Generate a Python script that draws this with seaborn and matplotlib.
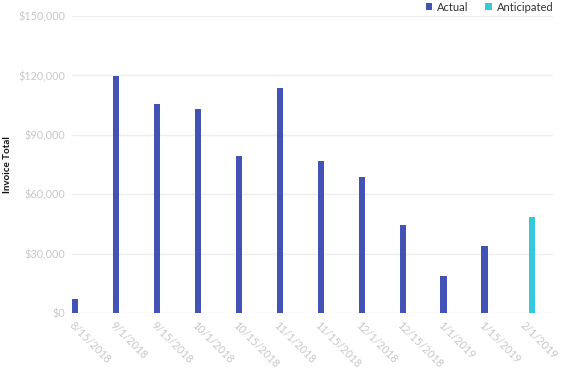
import matplotlib
matplotlib.use("Agg")
import matplotlib.pyplot as plt
import matplotlib.transforms as mtransforms
from matplotlib.ticker import FuncFormatter
from matplotlib.patches import Patch
import seaborn as sns
import pandas as pd

dates = ["8/15/2018", "9/1/2018", "9/15/2018", "10/1/2018", "10/15/2018", "11/1/2018",
         "11/15/2018", "12/1/2018", "12/15/2018", "1/1/2019", "1/15/2019", "2/1/2019"]
actual = [7300, 119700, 105600, 103200, 79500, 113700, 77000, 68900, 44600, 18800, 34000, None]
anticipated = [None, None, None, None, None, None, None, None, None, None, None, 48600]
series = ["Actual", "Anticipated"]
colors = ["#4352b5", "#36c9dc"]
yticks = [0, 30000, 60000, 90000, 120000, 150000]

rows = []
for d, a, p in zip(dates, actual, anticipated):
    if a is not None:
        rows.append({"date": d, "series": "Actual", "value": a})
    if p is not None:
        rows.append({"date": d, "series": "Anticipated", "value": p})
df = pd.DataFrame(rows)

sns.set_style("white")
plt.rcParams["font.family"] = ["Lato", "DejaVu Sans"]

fig = plt.figure(figsize=(5.64, 3.71), dpi=100)
ax = fig.add_axes([72 / 564, (371 - 313.3) / 371, (553 - 72) / 564, (313.3 - 16) / 371])

sns.barplot(data=df, x="date", y="value", hue="series", order=dates, hue_order=series,
            palette=colors, saturation=1, width=0.31, dodge=True, errorbar=None,
            linewidth=0, ax=ax, legend=False)

ax.set_xlim(-0.146, 11.59)
ax.set_ylim(0, 150000)
ax.set_yticks(yticks)
ax.yaxis.set_major_formatter(FuncFormatter(lambda v, p: "${:,.0f}".format(v)))
ax.grid(axis="y", color="#eeeeee", linewidth=1)
ax.set_axisbelow(True)
for s in ax.spines.values():
    s.set_visible(False)
ax.tick_params(axis="both", length=0, colors="#c8c8c8", labelsize=7.8)
ax.tick_params(axis="y", pad=5)
ax.set_xlabel("")
ax.set_ylabel("Invoice Total", fontsize=7, fontweight="bold", color="#111111", va="center")
ax.yaxis.set_label_coords(-0.135, 0.5)

ax.set_xticks(range(len(dates)))
ax.set_xticklabels(dates, rotation=-45, ha="left", va="top", rotation_mode="anchor")
offset = mtransforms.ScaledTranslation(-3 / 100, -1 / 100, fig.dpi_scale_trans)
for lab in ax.get_xticklabels():
    lab.set_transform(lab.get_transform() + offset)

handles = [Patch(facecolor=c, edgecolor="none") for c in colors]
ax.legend(handles, series, loc="lower right", bbox_to_anchor=(1.0 + 4 / 481, 1.0), ncol=2,
          frameon=False, handlelength=0.6, handleheight=0.6, handletextpad=0.45,
          columnspacing=1.5, fontsize=8, labelcolor="#333333", borderaxespad=0.1,
          borderpad=0.2)

fig.savefig("out.png", dpi=100)
